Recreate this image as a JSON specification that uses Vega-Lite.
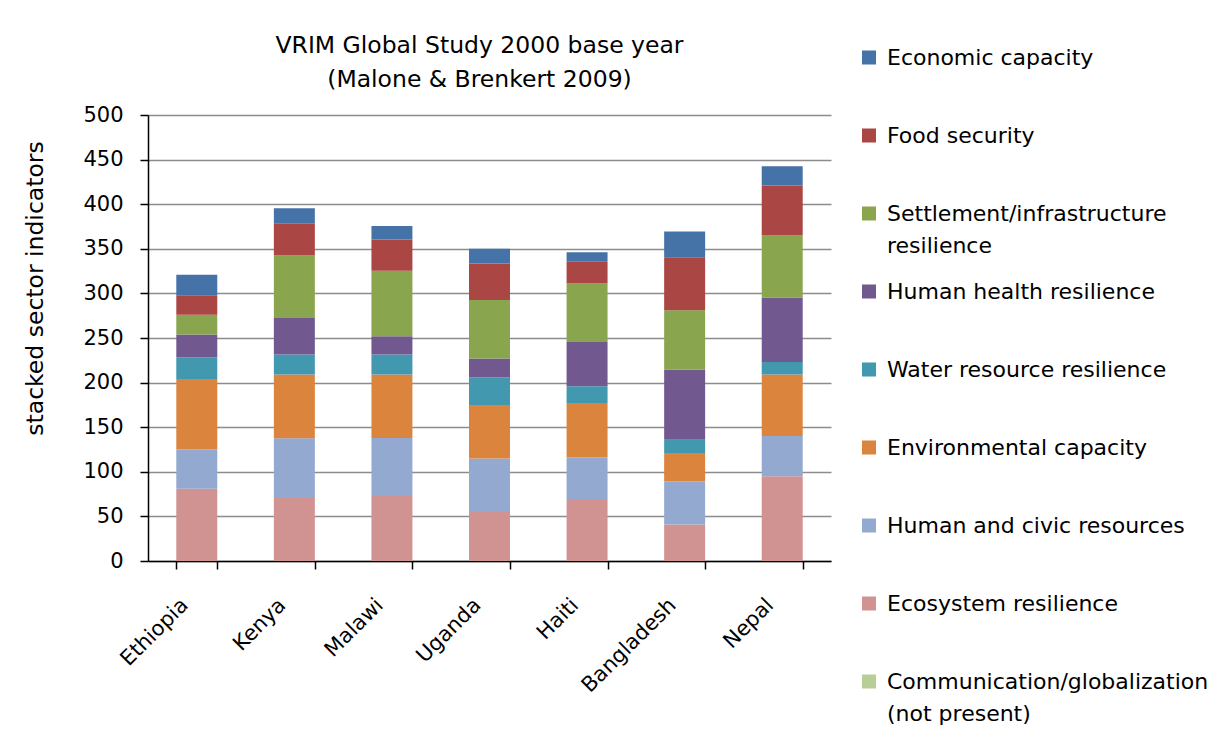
{
  "$schema": "https://vega.github.io/schema/vega-lite/v6.json",
  "autosize": {"type": "none"},
  "padding": {"left": 148, "top": 115, "right": 399, "bottom": 180},
  "width": 683,
  "height": 446,
  "background": "white",
  "title": {
    "text": ["VRIM Global Study 2000 base year", "(Malone & Brenkert 2009)"],
    "font": "DejaVu Sans",
    "fontSize": 23.5,
    "fontWeight": "normal",
    "color": "#000000",
    "lineHeight": 34,
    "anchor": "middle",
    "dx": -10,
    "offset": -53.5
  },
  "data": {
    "values": [
      {"country": "Ethiopia", "sector": "Ecosystem resilience", "k": 1, "value": 81},
      {"country": "Ethiopia", "sector": "Human and civic resources", "k": 2, "value": 44},
      {"country": "Ethiopia", "sector": "Environmental capacity", "k": 3, "value": 79},
      {"country": "Ethiopia", "sector": "Water resource resilience", "k": 4, "value": 24},
      {"country": "Ethiopia", "sector": "Human health resilience", "k": 5, "value": 26},
      {"country": "Ethiopia", "sector": "Settlement/infrastructure resilience", "k": 6, "value": 22},
      {"country": "Ethiopia", "sector": "Food security", "k": 7, "value": 22},
      {"country": "Ethiopia", "sector": "Economic capacity", "k": 8, "value": 23},
      {"country": "Kenya", "sector": "Ecosystem resilience", "k": 1, "value": 70.5},
      {"country": "Kenya", "sector": "Human and civic resources", "k": 2, "value": 67},
      {"country": "Kenya", "sector": "Environmental capacity", "k": 3, "value": 71.5},
      {"country": "Kenya", "sector": "Water resource resilience", "k": 4, "value": 22.5},
      {"country": "Kenya", "sector": "Human health resilience", "k": 5, "value": 41},
      {"country": "Kenya", "sector": "Settlement/infrastructure resilience", "k": 6, "value": 70},
      {"country": "Kenya", "sector": "Food security", "k": 7, "value": 35.5},
      {"country": "Kenya", "sector": "Economic capacity", "k": 8, "value": 17.5},
      {"country": "Malawi", "sector": "Ecosystem resilience", "k": 1, "value": 73},
      {"country": "Malawi", "sector": "Human and civic resources", "k": 2, "value": 65},
      {"country": "Malawi", "sector": "Environmental capacity", "k": 3, "value": 71},
      {"country": "Malawi", "sector": "Water resource resilience", "k": 4, "value": 22.5},
      {"country": "Malawi", "sector": "Human health resilience", "k": 5, "value": 20.5},
      {"country": "Malawi", "sector": "Settlement/infrastructure resilience", "k": 6, "value": 73.5},
      {"country": "Malawi", "sector": "Food security", "k": 7, "value": 35},
      {"country": "Malawi", "sector": "Economic capacity", "k": 8, "value": 15},
      {"country": "Uganda", "sector": "Ecosystem resilience", "k": 1, "value": 56},
      {"country": "Uganda", "sector": "Human and civic resources", "k": 2, "value": 59},
      {"country": "Uganda", "sector": "Environmental capacity", "k": 3, "value": 60},
      {"country": "Uganda", "sector": "Water resource resilience", "k": 4, "value": 31},
      {"country": "Uganda", "sector": "Human health resilience", "k": 5, "value": 21},
      {"country": "Uganda", "sector": "Settlement/infrastructure resilience", "k": 6, "value": 65.5},
      {"country": "Uganda", "sector": "Food security", "k": 7, "value": 41},
      {"country": "Uganda", "sector": "Economic capacity", "k": 8, "value": 16.5},
      {"country": "Haiti", "sector": "Ecosystem resilience", "k": 1, "value": 68.5},
      {"country": "Haiti", "sector": "Human and civic resources", "k": 2, "value": 47.5},
      {"country": "Haiti", "sector": "Environmental capacity", "k": 3, "value": 61},
      {"country": "Haiti", "sector": "Water resource resilience", "k": 4, "value": 19},
      {"country": "Haiti", "sector": "Human health resilience", "k": 5, "value": 49.5},
      {"country": "Haiti", "sector": "Settlement/infrastructure resilience", "k": 6, "value": 65.5},
      {"country": "Haiti", "sector": "Food security", "k": 7, "value": 24.5},
      {"country": "Haiti", "sector": "Economic capacity", "k": 8, "value": 10.5},
      {"country": "Bangladesh", "sector": "Ecosystem resilience", "k": 1, "value": 41},
      {"country": "Bangladesh", "sector": "Human and civic resources", "k": 2, "value": 48},
      {"country": "Bangladesh", "sector": "Environmental capacity", "k": 3, "value": 32},
      {"country": "Bangladesh", "sector": "Water resource resilience", "k": 4, "value": 15},
      {"country": "Bangladesh", "sector": "Human health resilience", "k": 5, "value": 78.5},
      {"country": "Bangladesh", "sector": "Settlement/infrastructure resilience", "k": 6, "value": 66.5},
      {"country": "Bangladesh", "sector": "Food security", "k": 7, "value": 59.5},
      {"country": "Bangladesh", "sector": "Economic capacity", "k": 8, "value": 29},
      {"country": "Nepal", "sector": "Ecosystem resilience", "k": 1, "value": 95},
      {"country": "Nepal", "sector": "Human and civic resources", "k": 2, "value": 45},
      {"country": "Nepal", "sector": "Environmental capacity", "k": 3, "value": 69},
      {"country": "Nepal", "sector": "Water resource resilience", "k": 4, "value": 14},
      {"country": "Nepal", "sector": "Human health resilience", "k": 5, "value": 72.5},
      {"country": "Nepal", "sector": "Settlement/infrastructure resilience", "k": 6, "value": 69.5},
      {"country": "Nepal", "sector": "Food security", "k": 7, "value": 56},
      {"country": "Nepal", "sector": "Economic capacity", "k": 8, "value": 21.5}
    ]
  },
  "mark": {"type": "bar"},
  "encoding": {
    "x": {
      "field": "country",
      "type": "nominal",
      "sort": ["Ethiopia", "Kenya", "Malawi", "Uganda", "Haiti", "Bangladesh", "Nepal"],
      "scale": {"paddingInner": 0.58, "paddingOuter": 0.29},
      "axis": {
        "title": null,
        "labelAngle": -45,
        "labelAlign": "right",
        "labelBaseline": "top",
        "labelFont": "DejaVu Sans",
        "labelFontSize": 21,
        "labelColor": "#000000",
        "labelPadding": 25,
        "labelOffset": -20,
        "tickBand": "extent",
        "tickSize": 8,
        "tickColor": "#000000",
        "tickWidth": 1.5,
        "domainColor": "#000000",
        "domainWidth": 1.5,
        "grid": false
      }
    },
    "y": {
      "field": "value",
      "type": "quantitative",
      "stack": "zero",
      "scale": {"domain": [0, 500], "nice": false},
      "axis": {
        "title": "stacked sector indicators",
        "titleFont": "DejaVu Sans",
        "titleFontSize": 23.5,
        "titleFontWeight": "normal",
        "titleColor": "#000000",
        "titlePadding": 35,
        "titleY": 173,
        "values": [0, 50, 100, 150, 200, 250, 300, 350, 400, 450, 500],
        "labelFont": "DejaVu Sans",
        "labelFontSize": 21,
        "labelColor": "#000000",
        "labelPadding": 17,
        "tickSize": 8,
        "tickColor": "#000000",
        "tickWidth": 1.5,
        "domainColor": "#000000",
        "domainWidth": 1.5,
        "grid": true,
        "gridColor": "#8c8c8c",
        "gridWidth": 1.3
      }
    },
    "color": {
      "field": "sector",
      "type": "nominal",
      "scale": {
        "domain": ["Economic capacity", "Food security", "Settlement/infrastructure resilience", "Human health resilience", "Water resource resilience", "Environmental capacity", "Human and civic resources", "Ecosystem resilience", "Communication/globalization (not present)"],
        "range": ["#4572A7", "#AA4643", "#89A54E", "#71588F", "#4198AF", "#DB843D", "#93A9CF", "#D19392", "#B9CD96"]
      },
      "legend": {
        "title": null,
        "orient": "none",
        "legendX": 710,
        "legendY": -77.5,
        "padding": 0,
        "clipHeight": 78,
        "rowPadding": 0,
        "symbolType": "square",
        "symbolSize": 196,
        "symbolStrokeWidth": 0,
        "symbolOpacity": 1,
        "labelFont": "DejaVu Sans",
        "labelFontSize": 22,
        "labelColor": "#000000",
        "labelOffset": 7,
        "labelLimit": 400,
        "labelExpr": "datum.label == 'Settlement/infrastructure resilience' ? ['Settlement/infrastructure', 'resilience'] : datum.label == 'Communication/globalization (not present)' ? ['Communication/globalization', '(not present)'] : datum.label",
        "encode": {
          "symbols": {"update": {"y": {"value": 20}}},
          "labels": {"update": {"y": {"value": 20}, "lineHeight": {"value": 32}}}
        }
      }
    },
    "order": {"field": "k", "type": "quantitative"}
  },
  "config": {
    "view": {"stroke": null},
    "font": "DejaVu Sans"
  }
}
